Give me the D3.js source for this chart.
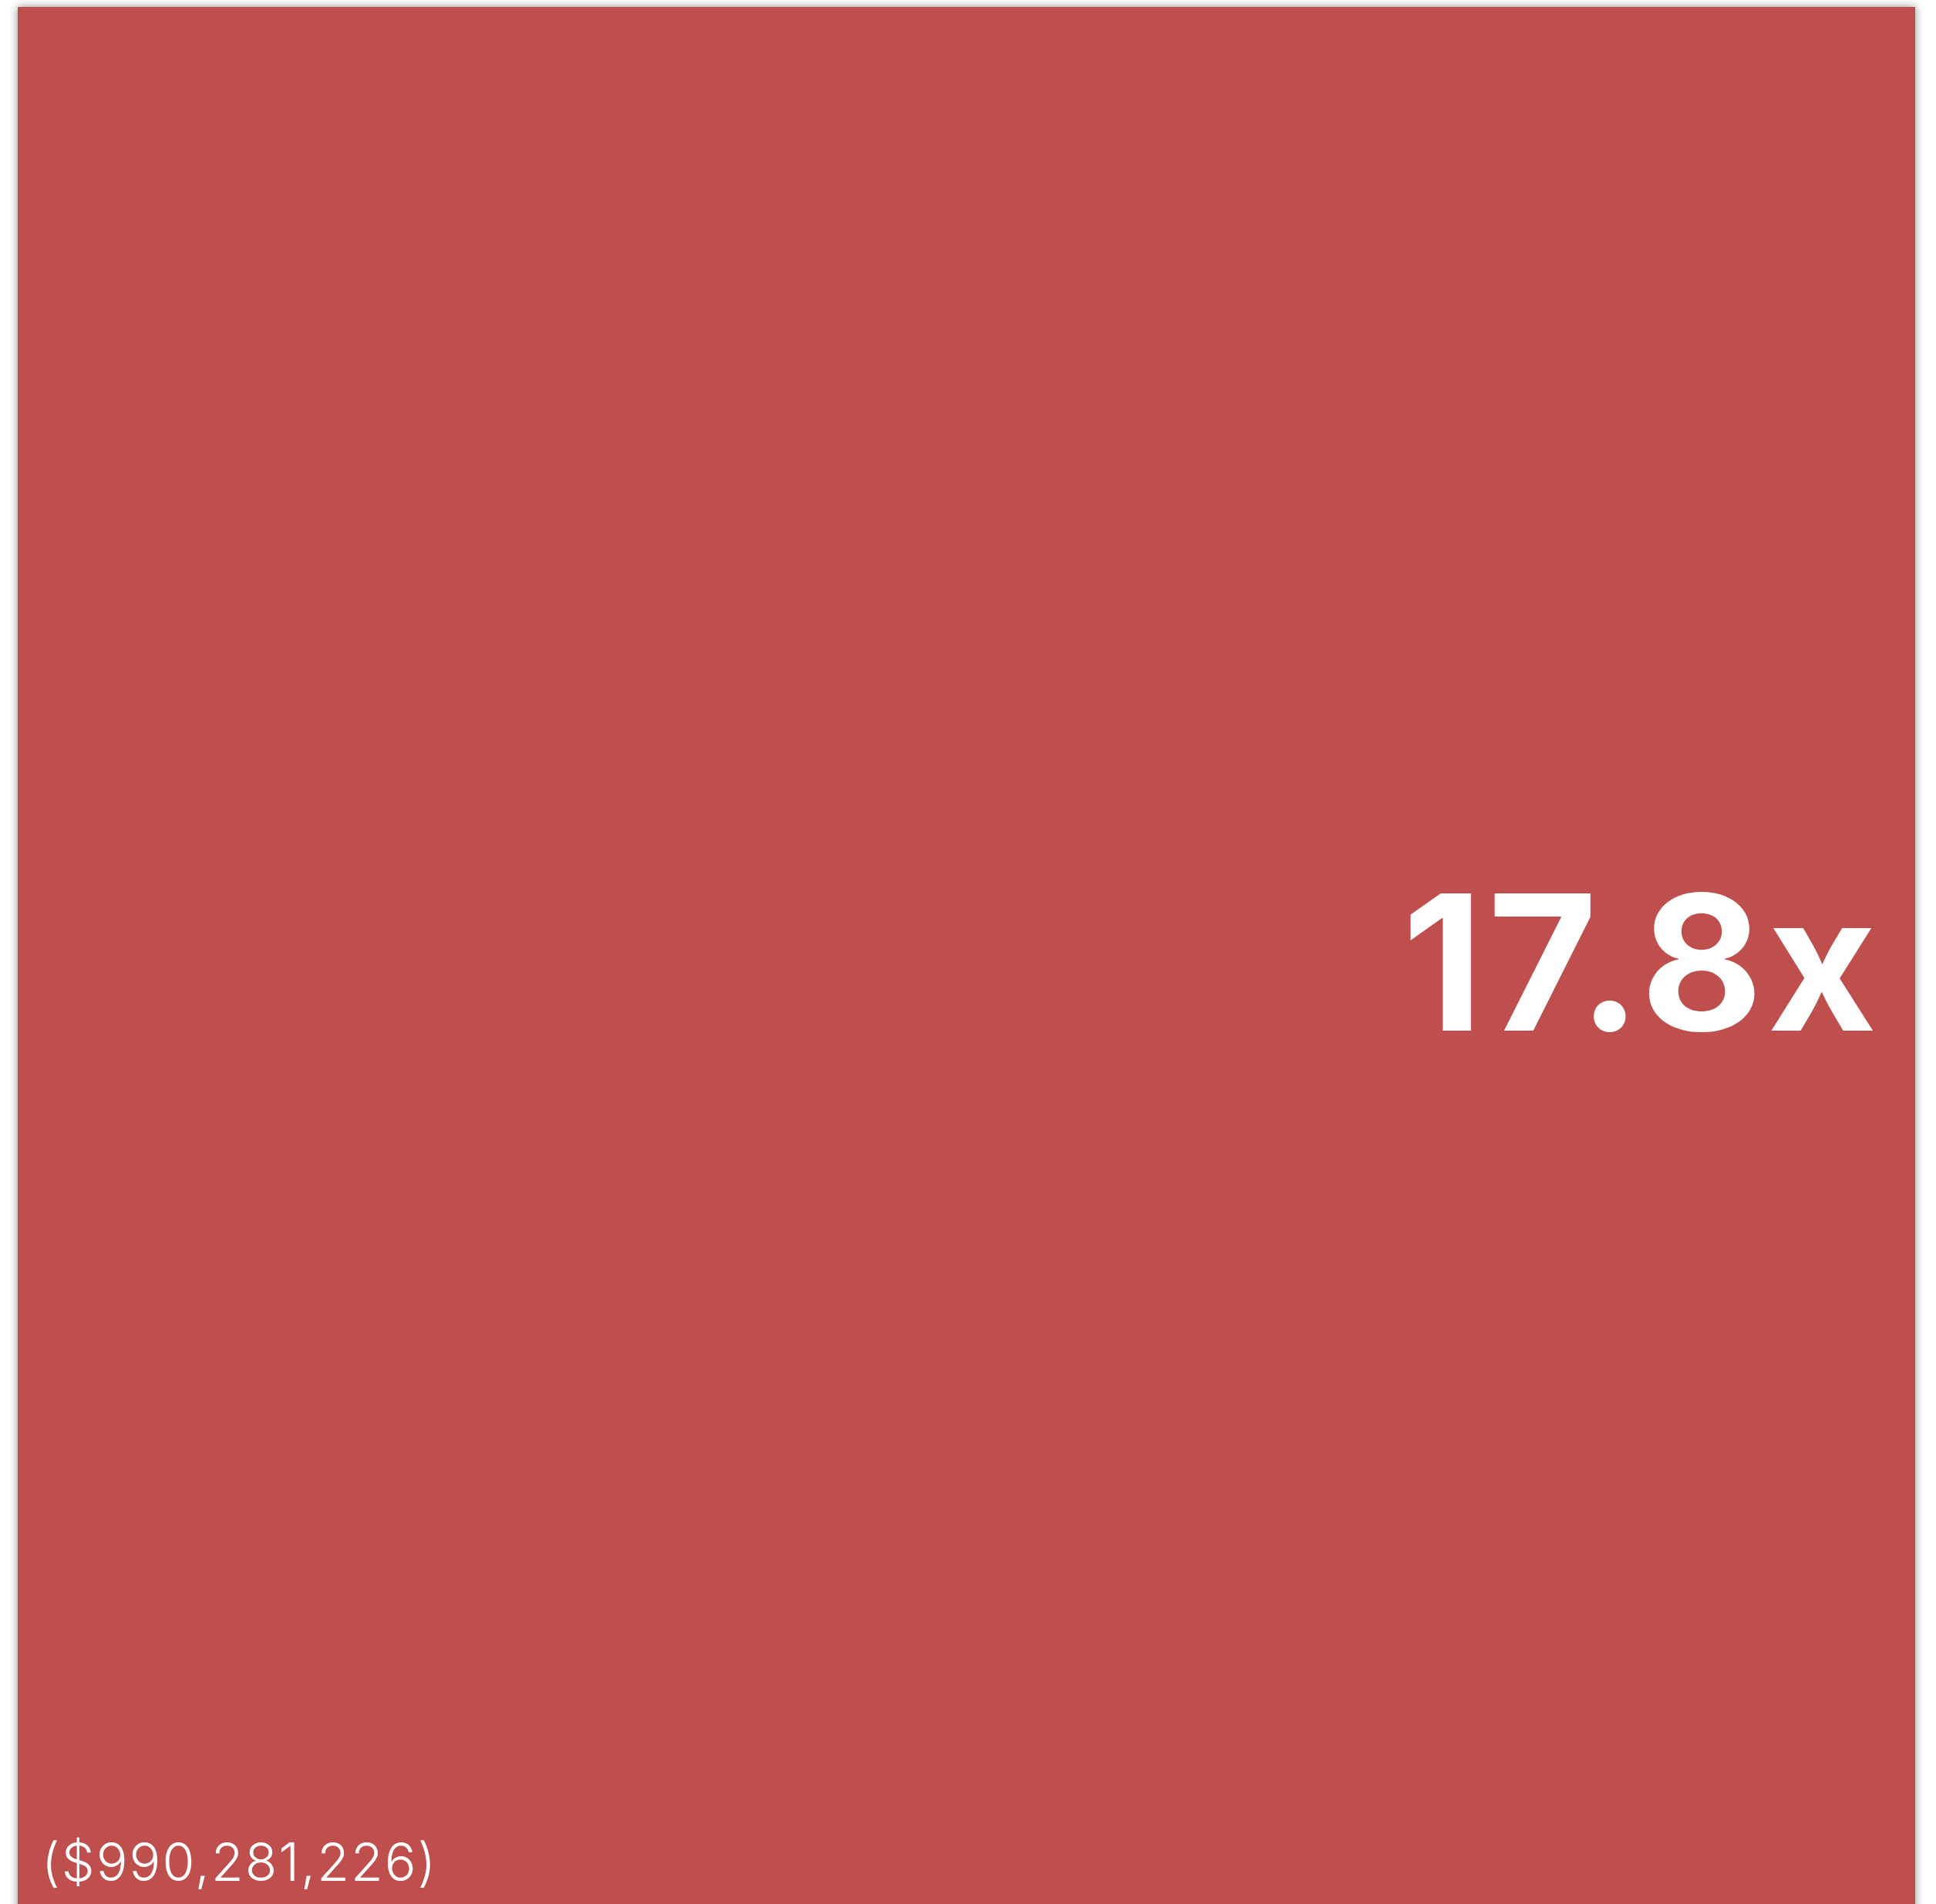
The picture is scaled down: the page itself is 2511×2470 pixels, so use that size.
<!DOCTYPE html>
<html>
    <head>
        <title>treemap cell</title>
        <style>
        html, body {
            margin: 0;
            padding: 0;
            background: #ffffff;
        }
        svg {
            display: block;
        }
        </style>
    </head>
    <body>
        <svg></svg>

        <script src="https://cdnjs.cloudflare.com/ajax/libs/d3/7.8.5/d3.min.js"></script>
        <script>
            // one cell, its amount and its multiple
            let names = ["Total"];
            let amounts = [990281226];
            let multiples = [17.8];

            let width = 2511;
            let height = 2470;
            let margin = {top: 9, right: 27, bottom: -10, left: 23};

            let svg = d3.select("svg")
                .attr("width", width)
                .attr("height", height);

            let defs = svg.append("defs");
            defs.append("filter")
                .attr("id", "shadow")
                .attr("x", "-5%").attr("y", "-5%")
                .attr("width", "110%").attr("height", "110%")
                .append("feDropShadow")
                .attr("dx", 0)
                .attr("dy", 0)
                .attr("stdDeviation", 6)
                .attr("flood-color", "#000")
                .attr("flood-opacity", 0.45);

            let root = d3.hierarchy({children: names.map((n, i) => ({name: n, value: amounts[i], mult: multiples[i]}))})
                .sum(d => d.value || 0);

            d3.treemap()
                .size([width - margin.left - margin.right, height - margin.top - margin.bottom])
                .padding(0)(root);

            let g = svg.append("g")
                .attr("transform", "translate(" + [margin.left, margin.top] + ")");

            let cell = g.selectAll("g.cell")
                .data(root.leaves())
                .enter().append("g")
                .attr("class", "cell");

            cell.append("rect")
                .attr("x", d => d.x0)
                .attr("y", d => d.y0)
                .attr("width", d => d.x1 - d.x0)
                .attr("height", d => d.y1 - d.y0)
                .attr("fill", "#be504e")
                .attr("filter", "url(#shadow)");

            // big multiple, right side
            cell.append("text")
                .attr("x", d => d.x1 - 44)
                .attr("y", d => d.y0 + 1328)
                .attr("text-anchor", "end")
                .attr("fill", "#ffffff")
                .style("font-family", "Inter, 'DejaVu Sans', sans-serif")
                .style("font-weight", 700)
                .style("font-size", "244px")
                .style("letter-spacing", "6px")
                .text(d => d3.format(".1f")(d.data.mult) + "x");

            // amount in the bottom left corner
            let money = d3.format("$,");
            cell.append("text")
                .attr("x", d => d.x0 + 31)
                .attr("y", d => d.y0 + 2431)
                .attr("fill", "#ffffff")
                .style("font-family", "Inter, sans-serif")
                .style("font-weight", 300)
                .style("font-size", "68px")
                .style("letter-spacing", "2px")
                .text(d => "(" + money(d.data.value) + ")");
        </script>
    </body>
</html>
